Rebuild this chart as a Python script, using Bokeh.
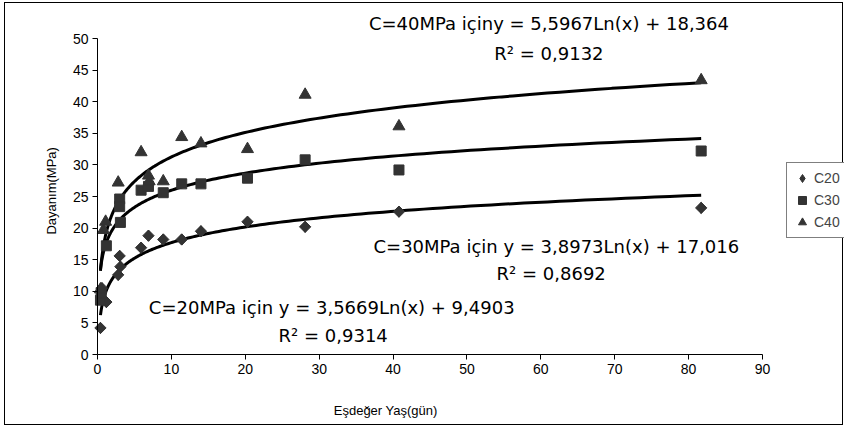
import numpy as np
from bokeh.plotting import figure
from bokeh.models import Range1d, FixedTicker, Label, Legend, LegendItem
from bokeh.embed import file_html
from bokeh.resources import INLINE

# ---------------- data ----------------
c20_x = [0.4, 0.6, 1.2, 2.8, 3.0, 3.1, 5.9, 6.9, 8.9, 11.4, 14.0, 20.3, 28.1, 40.8, 81.7]
c20_y = [4.2, 10.5, 8.3, 12.6, 15.6, 13.9, 16.9, 18.8, 18.2, 18.2, 19.5, 21.0, 20.2, 22.6, 23.2]

c30_x = [0.4, 0.5, 1.2, 3.0, 3.0, 3.1, 5.9, 6.9, 8.9, 11.4, 14.0, 20.3, 28.1, 40.8, 81.7]
c30_y = [8.6, 9.8, 17.2, 24.6, 23.4, 20.9, 26.0, 26.6, 25.6, 27.0, 27.0, 27.9, 30.8, 29.2, 32.2]

c40_x = [0.4, 0.8, 1.1, 2.8, 5.9, 6.9, 7.0, 8.9, 11.4, 14.0, 20.3, 28.1, 40.8, 81.7]
c40_y = [10.3, 19.7, 21.0, 27.2, 32.0, 28.3, 27.4, 27.4, 34.4, 33.4, 32.5, 41.1, 36.1, 43.4]

# logarithmic trendline coefficients shown on the chart: y = a*Ln(x) + b
c20_fit = (3.5669, 9.4903)
c30_fit = (3.8973, 17.016)
c40_fit = (5.5967, 18.364)

series_names = ["C20", "C30", "C40"]
x_ticks = [0, 10, 20, 30, 40, 50, 60, 70, 80, 90]
y_ticks = [0, 5, 10, 15, 20, 25, 30, 35, 40, 45, 50]

eq_texts = [
    ("C=40MPa içiny = 5,5967Ln(x) + 18,364", "R² = 0,9132"),
    ("C=30MPa için y = 3,8973Ln(x) + 17,016", "R² = 0,8692"),
    ("C=20MPa için y = 3,5669Ln(x) + 9,4903", "R² = 0,9314"),
]

x_title = "Eşdeğer Yaş(gün)"
y_title = "Dayanım(MPa)"

# ---------------- layout (pixels) ----------------
W, H = 839, 423              # canvas size
AX_LEFT, AX_RIGHT = 92, 757  # canvas px of x=0 and x=90
AX_TOP, AX_BOTTOM = 35, 351  # canvas px of y=50 and y=0
sx = (AX_RIGHT - AX_LEFT) / 90.0
sy = (AX_BOTTOM - AX_TOP) / 50.0

p = figure(width=W, height=H, output_backend="svg", toolbar_location=None,
           x_range=Range1d(-AX_LEFT / sx, (W - AX_LEFT) / sx),
           y_range=Range1d(-(H - AX_BOTTOM) / sy, 50 + AX_TOP / sy),
           min_border=0, min_border_left=0, min_border_right=0,
           min_border_top=0, min_border_bottom=0,
           background_fill_color="white", border_fill_color="white")
p.styles = {"border": "1px solid #000000", "margin-left": "4px", "margin-top": "2px"}
p.outline_line_color = None
p.xgrid.visible = False
p.ygrid.visible = False

for ax in (p.xaxis[0], p.yaxis[0]):
    ax.fixed_location = 0
    ax.axis_line_color = "black"
    ax.axis_line_width = 1
    ax.major_tick_line_color = "black"
    ax.major_tick_out = 5
    ax.major_tick_in = 0
    ax.minor_tick_line_color = None
    ax.major_label_text_font = "Liberation Sans"
    ax.major_label_text_font_size = "14px"
    ax.major_label_text_color = "black"
    ax.major_label_standoff = 4
p.xaxis.bounds = (0, 90)
p.yaxis.bounds = (0, 50)
p.xaxis.ticker = FixedTicker(ticks=x_ticks)
p.yaxis.ticker = FixedTicker(ticks=y_ticks)

mcol = "#333333"
fits = [c20_fit, c30_fit, c40_fit]
xs_all = [c20_x, c30_x, c40_x]
for (a, b), xs in zip(fits, xs_all):
    xl = np.geomspace(min(xs), max(xs), 200)
    p.line(xl, a * np.log(xl) + b, line_color="black", line_width=3)

# C20: diamond marker (gives the legend key) covered by a rotated square of equal width
r20 = p.scatter(c20_x, c20_y, marker="diamond", size=11, fill_color=mcol, line_color=mcol)
p.scatter(c20_x, c20_y, marker="square", angle=np.pi / 4, size=8,
          fill_color=mcol, line_color=mcol)
r30 = p.scatter(c30_x, c30_y, marker="square", size=10,
                fill_color=mcol, line_color=mcol)
r40 = p.scatter(c40_x, c40_y, marker="triangle", size=12,
                fill_color=mcol, line_color=mcol)

legend = Legend(items=[LegendItem(label=series_names[0], renderers=[r20]),
                       LegendItem(label=series_names[1], renderers=[r30]),
                       LegendItem(label=series_names[2], renderers=[r40])],
                location=(781, H - 235))
legend.label_text_font = "Liberation Sans"
legend.label_text_font_size = "14px"
legend.glyph_width = 20
legend.glyph_height = 20
legend.label_height = 20
legend.label_standoff = 2
legend.spacing = 2
legend.padding = 5
legend.margin = 0
legend.border_line_color = "black"
legend.border_line_width = 1
legend.background_fill_color = "white"
legend.background_fill_alpha = 1
p.add_layout(legend, "center")

# equation annotations (positions in data units)
eq_pos = [((61.1, 52.4), (61.1, 47.6)),
          ((62.1, 17.1), (61.4, 12.8)),
          ((31.7, 7.4), (31.9, 3.0))]
for (t1, t2), ((x1, y1), (x2, y2)) in zip(eq_texts, eq_pos):
    for t, x, y in ((t1, x1, y1), (t2, x2, y2)):
        p.add_layout(Label(x=x, y=y, text=t, text_align="center", text_baseline="middle",
                           text_font="DejaVu Sans", text_font_size="18px", text_color="black"))

p.add_layout(Label(x=39.0, y=-8.9, text=x_title, text_align="center", text_baseline="middle",
                   text_font="Liberation Sans", text_font_size="13px", text_color="black"))
p.add_layout(Label(x=-6.2, y=25.9, text=y_title, text_align="center", text_baseline="middle",
                   angle=np.pi / 2, text_font="Liberation Sans", text_font_size="13px",
                   text_color="black"))

open("out.html", "w").write(file_html(p, INLINE))
